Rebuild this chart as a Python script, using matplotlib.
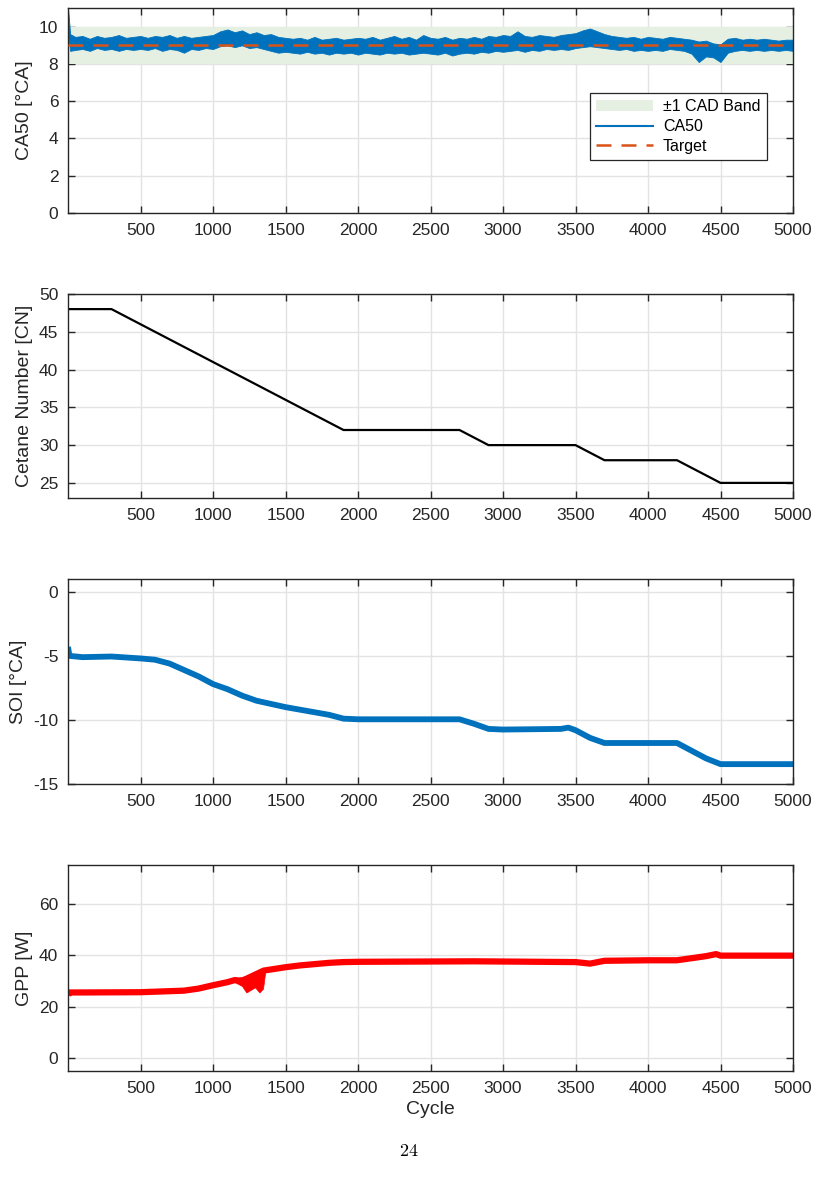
import matplotlib
matplotlib.use("Agg")
import matplotlib.pyplot as plt
from matplotlib.patches import Patch
from matplotlib.lines import Line2D

plt.rcParams["font.family"] = ["Liberation Sans", "DejaVu Sans"]
plt.rcParams["axes.unicode_minus"] = False

# --- CA50 [deg CA]: upper/lower envelope of the noisy trace ---
ca50_cycles = [0, 15] + list(range(50, 5001, 50))
ca50_upper = [11.0, 9.6,
              9.45, 9.5, 9.35, 9.5, 9.4, 9.45, 9.55, 9.4, 9.45, 9.5,
              9.4, 9.5, 9.45, 9.55, 9.4, 9.5, 9.4, 9.45, 9.5, 9.55,
              9.75, 9.85, 9.7, 9.8, 9.6, 9.7, 9.55, 9.6, 9.45, 9.4,
              9.35, 9.4, 9.3, 9.45, 9.3, 9.35, 9.4, 9.3, 9.35, 9.4,
              9.35, 9.45, 9.3, 9.4, 9.5, 9.35, 9.45, 9.3, 9.55, 9.4,
              9.35, 9.45, 9.3, 9.4, 9.35, 9.45, 9.35, 9.5, 9.45, 9.55,
              9.5, 9.75, 9.5, 9.45, 9.55, 9.5, 9.45, 9.55, 9.6, 9.65,
              9.8, 9.9, 9.75, 9.6, 9.5, 9.45, 9.4, 9.45, 9.35, 9.45,
              9.4, 9.35, 9.45, 9.4, 9.35, 9.3, 9.2, 9.25, 9.1, 9.05,
              9.35, 9.4, 9.3, 9.35, 9.3, 9.35, 9.3, 9.25, 9.3, 9.3]
ca50_lower = [9.6, 8.7,
              8.75, 8.8, 8.7, 8.85, 8.75, 8.8, 8.7, 8.8, 8.75, 8.8,
              8.75, 8.85, 8.7, 8.8, 8.75, 8.6, 8.8, 8.75, 8.85, 8.8,
              8.95, 9.0, 8.9, 9.0, 8.85, 8.9, 8.8, 8.7, 8.6, 8.65,
              8.6, 8.55, 8.65, 8.55, 8.6, 8.5, 8.6, 8.55, 8.6, 8.5,
              8.6, 8.55, 8.5, 8.6, 8.55, 8.6, 8.5, 8.55, 8.6, 8.55,
              8.5, 8.6, 8.45, 8.55, 8.6, 8.55, 8.65, 8.6, 8.7, 8.65,
              8.7, 8.75, 8.65, 8.75, 8.7, 8.8, 8.75, 8.8, 8.75, 8.85,
              8.9, 8.95, 8.9, 8.85, 8.8, 8.75, 8.8, 8.7, 8.75, 8.7,
              8.75, 8.7, 8.8, 8.75, 8.7, 8.55, 8.1, 8.4, 8.35, 8.1,
              8.6, 8.7, 8.75, 8.7, 8.75, 8.7, 8.75, 8.7, 8.75, 8.7]
ca50_target = 9.0
band_half = 1.0

# --- Cetane number schedule ---
cn_cycles = [0, 300, 1900, 2700, 2900, 3500, 3700, 4200, 4500, 5000]
cn_values = [48, 48, 32, 32, 30, 30, 28, 28, 25, 25]

# --- SOI [deg CA] ---
soi_cycles = [0, 10, 100, 300, 500, 600, 700, 800, 900, 1000, 1100, 1200,
              1300, 1400, 1500, 1600, 1700, 1800, 1900, 2000, 2700, 2800,
              2900, 3000, 3400, 3450, 3500, 3600, 3700, 4200, 4300, 4400,
              4500, 5000]
soi_values = [-4.3, -5.0, -5.1, -5.05, -5.2, -5.3, -5.6, -6.1, -6.6, -7.2,
              -7.6, -8.1, -8.5, -8.75, -9.0, -9.2, -9.4, -9.6, -9.9, -9.95,
              -9.95, -10.3, -10.7, -10.75, -10.7, -10.6, -10.8, -11.4, -11.8,
              -11.8, -12.4, -13.0, -13.45, -13.45]

# --- GPP [W] ---
gpp_cycles = [0, 10, 100, 500, 800, 900, 1000, 1100, 1150, 1200, 1350, 1500,
              1600, 1700, 1800, 1900, 2000, 2800, 3500, 3600, 3700, 4000,
              4200, 4300, 4400, 4470, 4500, 5000]
gpp_values = [24.5, 25.5, 25.5, 25.6, 26.2, 27.0, 28.3, 29.5, 30.3, 30.0,
              34.0, 35.3, 36.0, 36.5, 37.0, 37.3, 37.4, 37.6, 37.3, 36.7,
              37.8, 38.0, 38.0, 38.8, 39.6, 40.4, 39.8, 39.8]
# disturbed stretch around 1200-1350 cycles
gpp_dist_cycles = [1150, 1200, 1230, 1260, 1290, 1320, 1345, 1360]
gpp_dist_upper = [31.0, 31.5, 32.0, 32.5, 33.0, 33.5, 34.0, 34.0]
gpp_dist_lower = [29.5, 28.0, 25.5, 26.5, 27.5, 25.5, 27.0, 33.5]

blue = "#0072BD"
orange = "#D95319"
band = "#e5f0e3"
txt = "#262626"

fig = plt.figure(figsize=(8.18, 11.91), dpi=100)
W, H = 818, 1191


def make_ax(top, bottom):
    ax = fig.add_axes([68 / W, 1 - bottom / H, 725 / W, (bottom - top) / H])
    ax.set_xlim(0, 5000)
    ax.set_xticks(range(500, 5001, 500))
    ax.grid(True, color="#e3e3e3", lw=1.0)
    ax.set_axisbelow(True)
    ax.tick_params(direction="in", length=5, width=1, top=True, right=True,
                   labelsize=12.5, colors=txt, pad=7)
    for s in ax.spines.values():
        s.set_color(txt)
        s.set_linewidth(1.0)
    return ax


ax1 = make_ax(8, 213)
ax1.axhspan(ca50_target - band_half, ca50_target + band_half, color=band, lw=0, zorder=1)
ax1.fill_between(ca50_cycles, ca50_lower, ca50_upper, color=blue, lw=0.6, edgecolor=blue, zorder=2)
ax1.axhline(ca50_target, color=orange, lw=1.8, ls=(0, (6, 4)), zorder=4)
ax1.set_ylim(0, 11)
ax1.set_yticks([0, 2, 4, 6, 8, 10])
ax1.set_ylabel("CA50 [°CA]", fontsize=14, color=txt)
handles = [Patch(facecolor=band, edgecolor="none"),
           Line2D([], [], color=blue, lw=1.5),
           Line2D([], [], color=orange, lw=1.8, ls=(0, (6, 4)))]
leg = ax1.legend(handles, ["±1 CAD Band", "CA50", "Target"], loc="upper right",
                 bbox_to_anchor=(0.964, 0.585), fontsize=11.5, fancybox=False,
                 framealpha=1, edgecolor=txt, handlelength=3.6, borderpad=0.4,
                 labelspacing=0.3, handletextpad=0.6, borderaxespad=0)
leg.get_frame().set_linewidth(0.9)

ax2 = make_ax(294, 498)
ax2.plot(cn_cycles, cn_values, color="black", lw=1.6)
ax2.set_ylim(23, 50)
ax2.set_yticks([25, 30, 35, 40, 45, 50])
ax2.set_ylabel("Cetane Number [CN]", fontsize=14, color=txt)

ax3 = make_ax(579, 784)
ax3.plot(soi_cycles, soi_values, color=blue, lw=4.2, solid_capstyle="butt")
ax3.set_ylim(-15, 1)
ax3.set_yticks([-15, -10, -5, 0])
ax3.set_ylabel("SOI [°CA]", fontsize=14, color=txt)

ax4 = make_ax(865, 1071)
ax4.fill_between(gpp_dist_cycles, gpp_dist_lower, gpp_dist_upper, color="red", lw=0.5, edgecolor="red")
ax4.plot(gpp_cycles, gpp_values, color="red", lw=4.5, solid_capstyle="butt")
ax4.set_ylim(-5, 75)
ax4.set_yticks([0, 20, 40, 60])
ax4.set_ylabel("GPP [W]", fontsize=14, color=txt)
ax4.set_xlabel("Cycle", fontsize=14, color=txt, labelpad=4)

fig.text(409 / W, 1 - 1152 / H, "$24$", ha="center", va="center",
         fontsize=13, math_fontfamily="cm")

fig.savefig("out.png", dpi=100)
